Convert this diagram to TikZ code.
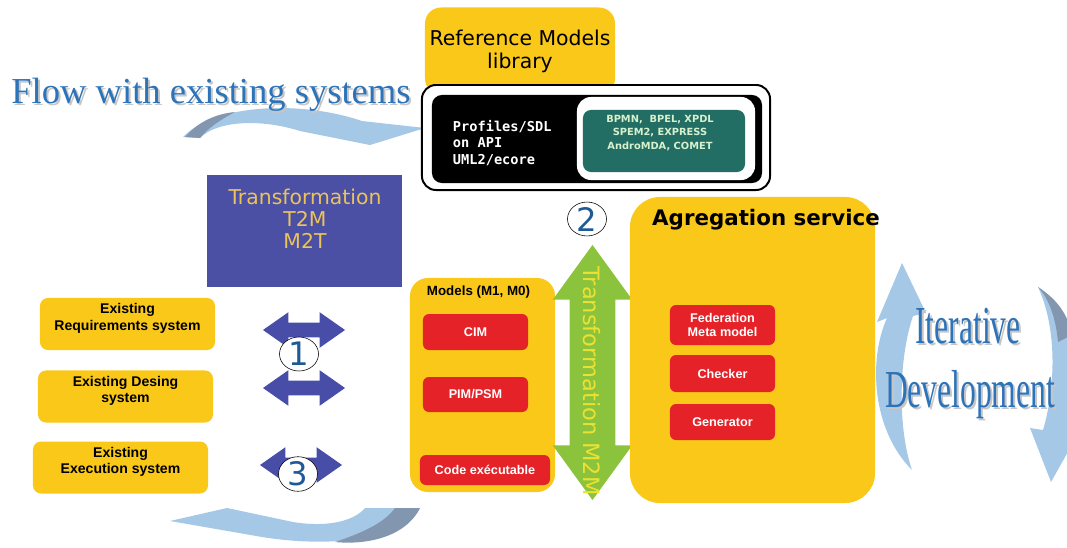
\documentclass[tikz,border=0pt]{standalone}
\usepackage{fontspec}
\usepackage{graphicx}
\setmainfont{Liberation Sans}
\newfontfamily\verdfont{DejaVu Sans}
\newfontfamily\monofont{DejaVu Sans Mono}
\newfontfamily\romfont{Liberation Serif}
\usetikzlibrary{shapes.arrows,shapes.geometric}
\definecolor{boxyellow}{RGB}{250,200,25}
\definecolor{boxred}{RGB}{228,34,40}
\definecolor{transblue}{RGB}{75,80,165}
\definecolor{arrowblue}{RGB}{72,78,168}
\definecolor{tealbox}{RGB}{35,110,100}
\definecolor{tealtext}{RGB}{215,240,205}
\definecolor{m2mgreen}{RGB}{140,195,60}
\definecolor{m2myellow}{RGB}{235,225,50}
\definecolor{transyellow}{RGB}{235,195,90}
\definecolor{flowblue}{RGB}{165,200,230}
\definecolor{flowdark}{RGB}{130,150,175}
\definecolor{titleblue}{RGB}{45,115,185}
\definecolor{numblue}{RGB}{30,90,150}
\begin{document}
\begin{tikzpicture}[x=0.025cm,y=-0.025cm,
	ybox/.style={fill=boxyellow,rounded corners=0.2cm,inner sep=0pt},
	rbox/.style={fill=boxred,rounded corners=0.15cm,inner sep=0pt,minimum width=2.625cm,text=white,align=center,font=\bfseries\fontsize{9}{10}\selectfont},
	exbox/.style={ybox,minimum width=4.375cm,minimum height=1.3cm},
	extext/.style={align=center,font=\bfseries\fontsize{10}{11.5}\selectfont},
	dbl/.style={double arrow,fill=arrowblue,inner xsep=0pt,inner ysep=0.175cm,double arrow head extend=0.2625cm,double arrow tip angle=70,minimum height=2.05cm},
	num/.style={ellipse,draw=black,fill=white,thin,inner sep=0pt,minimum width=0.975cm,minimum height=0.85cm,text=numblue,font=\verdfont\fontsize{23}{23}\selectfont},
	flowtext/.style={font=\romfont\fontsize{26}{26}\selectfont,anchor=base},
	itertext/.style={font=\romfont\fontsize{38}{38}\selectfont,anchor=base}]
	\useasboundingbox (0,0) rectangle (1067,547);
	\fill[flowblue] (183,137) .. controls (215,104) and (300,100) .. (362,121) -- (425,128) -- (370,145) -- (300,131) .. controls (262,119) and (218,120) .. (200,138) -- cycle;
	\fill[flowdark] (185,137) .. controls (198,122) and (215,114) .. (235,112) .. controls (220,120) and (208,128) .. (200,138) -- cycle;
	\fill[flowblue] (420,508) .. controls (405,540) and (330,548) .. (262,537) -- (170,521) -- (227,508) -- (293,522) .. controls (330,528) and (355,520) .. (365,508) -- cycle;
	\fill[flowdark] (420,508) .. controls (405,538) and (365,545) .. (335,542) .. controls (365,532) and (385,522) .. (395,508) -- cycle;
	\fill[flowblue] (912,470) .. controls (872,430) and (868,360) .. (887,318) -- (877,322) -- (902,263) -- (926,313) -- (913,316) .. controls (898,360) and (898,430) .. (912,470) -- cycle;
	\fill[flowblue] (1038,287) .. controls (1075,310) and (1080,390) .. (1068,432) -- (1078,434) -- (1051,482) -- (1030,428) -- (1043,430) .. controls (1055,390) and (1058,330) .. (1038,287) -- cycle;
	\fill[flowdark] (1038,287) .. controls (1058,300) and (1068,315) .. (1072,335) -- (1058,342) .. controls (1056,320) and (1050,300) .. (1038,287) -- cycle;
	\node[flowtext,text=gray!45] (flowshadow) at (213,105) {Flow with existing systems};
	\node[flowtext,text=titleblue] (flow) at (211,103) {Flow with existing systems};
	\node[itertext,text=gray!45] (itershadow) at (970,345) {\scalebox{0.59}[1]{Iterative}};
	\node[itertext,text=titleblue] (iter) at (968,343) {\scalebox{0.59}[1]{Iterative}};
	\node[itertext,text=gray!45] (devshadow) at (972,409) {\scalebox{0.59}[1]{Development}};
	\node[itertext,text=titleblue] (dev) at (970,407) {\scalebox{0.59}[1]{Development}};
	\node[ybox,rounded corners=0.4cm,minimum width=4.75cm,minimum height=2.175cm,align=center,font=\verdfont\fontsize{14.5}{16.5}\selectfont] (reflib) at (520,51) {Reference Models\\library};
	\node[draw=black,line width=1.4pt,fill=white,rounded corners=0.35cm,minimum width=8.7cm,minimum height=2.625cm] (libframe) at (596,137.5) {};
	\node[fill=black,rounded corners=0.25cm,minimum width=8.25cm,minimum height=2.2cm] (libblack) at (597,139) {};
	\node[fill=white,rounded corners=0.35cm,minimum width=4.45cm,minimum height=2.075cm] (libwhite) at (666,138.5) {};
	\node[fill=tealbox,rounded corners=0.2cm,minimum width=4.05cm,minimum height=1.55cm] (libteal) at (664,141) {};
	\node[text=tealtext,align=center,font=\verdfont\bfseries\fontsize{7}{9.6}\selectfont] (tealtext) at (660,133) {BPMN,\ \ BPEL, XPDL\\SPEM2, EXPRESS\\AndroMDA, COMET};
	\node[anchor=west,text=white,align=left,font=\monofont\bfseries\fontsize{9.7}{11.7}\selectfont] (profiles) at (448,143) {Profiles/SDL\\on API\\UML2/ecore};
	\node[fill=transblue,minimum width=4.875cm,minimum height=2.8cm] (trans) at (304.5,231) {};
	\node[text=transyellow,align=center,font=\verdfont\fontsize{14.5}{15.5}\selectfont] (transtext) at (305,219) {Transformation\\T2M\\M2T};
	\node[exbox] (exreq) at (127.5,324) {};
	\node[extext] (exreqtext) at ([yshift=4pt]exreq.center) {Existing\\Requirements system};
	\node[exbox] (exdes) at (125.5,396.5) {};
	\node[extext] (exdestext) at ([yshift=4pt]exdes.center) {Existing Desing\\system};
	\node[exbox] (exexe) at (120.5,467.5) {};
	\node[extext] (exexetext) at ([yshift=4pt]exexe.center) {Existing\\Execution system};
	\node[dbl] (arr1) at (304,330) {};
	\node[dbl] (arr2) at (304,388) {};
	\node[dbl] (arr3) at (301,465) {};
	\node[num] (n1) at (299,354) {1};
	\node[num,minimum height=0.7cm] (n2) at (587,219) {2};
	\node[num,minimum height=0.8cm] (n3) at (298,474) {3};
	\node[ybox,rounded corners=0.45cm,minimum width=3.625cm,minimum height=5.35cm] (models) at (482.5,385) {};
	\node[font=\bfseries\fontsize{9.5}{10}\selectfont] (modelstitle) at (478.5,292) {Models (M1, M0)};
	\node[rbox,minimum height=0.9cm] (cim) at (475.5,332) {CIM};
	\node[rbox,minimum height=0.875cm] (pim) at (475.5,394.5) {PIM/PSM};
	\node[rbox,minimum width=3.25cm,minimum height=0.75cm] (code) at (485,470) {Code exécutable};
	\node[double arrow,rotate=90,fill=m2mgreen,inner xsep=0pt,inner ysep=0.5625cm,double arrow head extend=0.425cm,double arrow tip angle=72,minimum height=6.375cm] (m2m) at (592.5,372.5) {};
	\node[rotate=-90,text=m2myellow,font=\verdfont\fontsize{16}{16}\selectfont] (m2mtext) at (592,381) {Transformation M2M};
	\node[ybox,rounded corners=0.75cm,minimum width=6.125cm,minimum height=7.65cm] (agg) at (752.5,350) {};
	\node[font=\verdfont\bfseries\fontsize{15.2}{16}\selectfont] (aggtitle) at (766,220) {Agregation service};
	\node[rbox,minimum height=1cm] (fed) at (722.5,325) {Federation\\Meta model};
	\node[rbox,minimum height=0.925cm] (checker) at (722.5,373.5) {Checker};
	\node[rbox,minimum height=0.9cm] (gen) at (722.5,422) {Generator};
\end{tikzpicture}
\end{document}
